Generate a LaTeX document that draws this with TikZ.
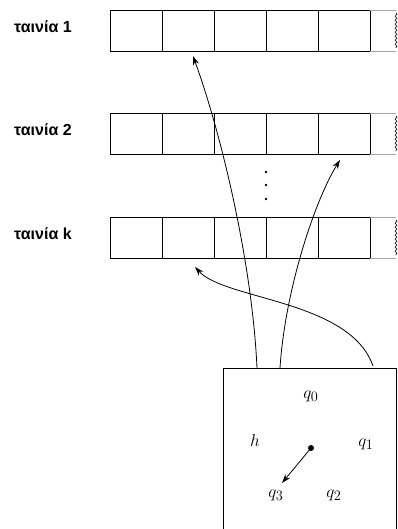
\documentclass[tikz,border=0pt]{standalone}
\usepackage{fontspec}
\setsansfont{Liberation Sans}
\usetikzlibrary{arrows.meta,decorations.pathmorphing}
\begin{document}
\begin{tikzpicture}[x=1pt,y=-1pt,
  cell/.style={draw,line width=0.8pt,minimum width=52pt,minimum height=41pt,inner sep=0pt,outer sep=0pt,anchor=north west},
  tapelabel/.style={font=\sffamily\bfseries\fontsize{16}{18}\selectfont,anchor=west,inner sep=0pt},
  st/.style={font=\fontsize{19}{21}\selectfont},
  arr/.style={line width=0.8pt,-{Stealth[length=9pt,width=6pt]}}]
\useasboundingbox (0,0) rectangle (398,529);
% tapes
\foreach \r/\y/\t in {a/10/1,b/113/2,k/217/k}{
  \node[tapelabel] (lab\r) at (14,\y+17) {ταινία \t};
  \foreach \i in {0,...,4}{
    \node[cell] (c\r\i) at (110+52*\i,\y) {};
  }
  \draw[gray!70,line width=0.8pt] (c\r4.north east) -- (396,\y) (c\r4.south east) -- (396,\y+41);
  \draw[decorate,decoration={snake,amplitude=1pt,segment length=4pt},line width=0.6pt] (396,\y+3) -- (396,\y+38);
}
% dots
\foreach \y/\n in {172/1,185/2,199/3}{\fill (266,\y) circle (1.4pt) coordinate (dot\n);}
% state box
\draw[line width=0.8pt] (223,530) -- (223,368) -- (396,368) -- (396,530);
\node[st] (q0) at (311,396) {$q_0$};
\node[st] (h) at (255,440) {$h$};
\node[st] (q1) at (366,444) {$q_1$};
\node[st] (q3) at (276,495) {$q_3$};
\node[st] (q2) at (334,495) {$q_2$};
\fill (311,448) circle (3pt) coordinate (ctr);
\coordinate (hd) at (282,483);
\draw[arr] (ctr) -- (hd);
% heads
\coordinate (s1) at (257,368);
\coordinate (s2) at (280,368);
\coordinate (s3) at (373,366);
\coordinate (t1) at (193,56);
\coordinate (t2) at (340,160);
\coordinate (tk) at (195,267);
\draw[arr] (s1) .. controls (252,260) and (220,130) .. (t1);
\draw[arr] (s2) .. controls (285,290) and (315,200) .. (t2);
\draw[arr] (s3) .. controls (350,300) and (225,300) .. (tk);
\end{tikzpicture}
\end{document}
